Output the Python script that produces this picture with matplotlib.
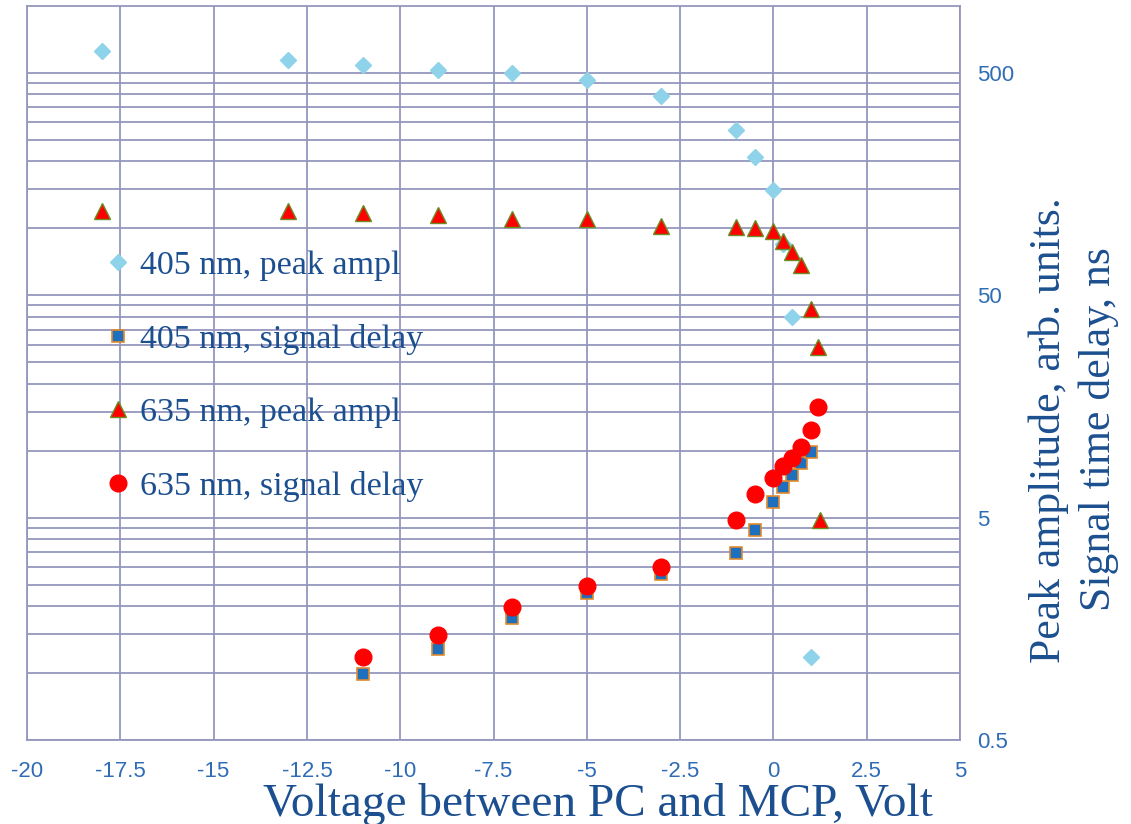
import matplotlib
matplotlib.use('Agg')
import matplotlib.pyplot as plt
from matplotlib.ticker import FixedLocator, NullFormatter

# data
x_405_amp = [-18, -13, -11, -9, -7, -5, -3, -1, -0.5, 0, 0.25, 0.5, 1.0]
y_405_amp = [628, 572, 543, 516, 500, 465, 394, 277, 210, 149, 85, 40, 1.18]

x_405_del = [-11, -9, -7, -5, -3, -1, -0.5, 0, 0.25, 0.5, 0.75, 1.0]
y_405_del = [0.99, 1.28, 1.77, 2.29, 2.79, 3.47, 4.4, 5.9, 6.84, 7.8, 8.8, 9.9]

x_635_amp = [-18, -13, -11, -9, -7, -5, -3, -1, -0.5, 0, 0.25, 0.5, 0.75, 1.0, 1.2, 1.25]
y_635_amp = [120, 120, 117, 115, 110, 110, 103, 101, 100, 97.7, 88, 78, 68.5, 43.6, 29.3, 4.9]

x_635_del = [-11, -9, -7, -5, -3, -1, -0.5, 0, 0.25, 0.5, 0.75, 1.0, 1.2]
y_635_del = [1.18, 1.49, 1.99, 2.47, 2.99, 4.9, 6.4, 7.5, 8.5, 9.3, 10.4, 12.4, 15.8]

labels = ['405 nm, peak ampl', '405 nm, signal delay',
          '635 nm, peak ampl', '635 nm, signal delay']

x_ticks = [-20, -17.5, -15, -12.5, -10, -7.5, -5, -2.5, 0, 2.5, 5]
x_tick_labels = ['-20', '-17.5', '-15', '-12.5', '-10', '-7.5', '-5', '-2.5', '0', '2.5', '5']
y_ticks = [0.5, 5, 50, 500]
y_tick_labels = ['0.5', '5', '50', '500']

grid_col = '#9497bd'
tick_col = '#2f6cb5'
label_col = '#1c4f8f'

fig = plt.figure(figsize=(11.31, 8.24), dpi=100)
ax = fig.add_axes([27 / 1131, 1 - 740 / 824, (960 - 27) / 1131, (740 - 6) / 824])

ax.plot(x_405_amp, y_405_amp, linestyle='none', marker='D', ms=8.5,
        mfc='#8fd3ea', mec='#8fd3ea', label=labels[0], zorder=3)
ax.plot(x_405_del, y_405_del, linestyle='none', marker='s', ms=8.5,
        mfc='#1f6fbf', mec='#e08a2c', mew=1.2, label=labels[1], zorder=4)
ax.plot(x_635_amp, y_635_amp, linestyle='none', marker='^', ms=12,
        mfc='#ff0000', mec='#6b8e23', mew=1.0, label=labels[2], zorder=5)
ax.plot(x_635_del, y_635_del, linestyle='none', marker='o', ms=12,
        mfc='#ff0000', mec='#ff0000', label=labels[3], zorder=6)

ax.set_yscale('log')
ax.set_xlim(-20, 5)
ax.set_ylim(0.5, 1000)

ax.set_xticks(x_ticks)
ax.set_xticklabels(x_tick_labels)
ax.yaxis.set_major_locator(FixedLocator(y_ticks))
ax.set_yticklabels(y_tick_labels)
minor = [d * k for d in [0.5, 5, 50] for k in range(2, 10)]
ax.yaxis.set_minor_locator(FixedLocator(minor))
ax.yaxis.set_minor_formatter(NullFormatter())
ax.yaxis.tick_right()

ax.tick_params(axis='both', which='both', length=0, colors=tick_col, labelsize=16)
ax.tick_params(axis='x', pad=15)
ax.tick_params(axis='y', pad=12)
for t in ax.get_xticklabels() + ax.get_yticklabels():
    t.set_fontfamily('Liberation Sans')

ax.grid(True, which='major', color=grid_col, linewidth=1.3)
ax.grid(True, which='minor', axis='y', color=grid_col, linewidth=1.3)
ax.set_axisbelow(True)
for s in ax.spines.values():
    s.set_color(grid_col)
    s.set_linewidth(1.3)

fig.text(598 / 1131, 1 - 816 / 824, 'Voltage between PC and MCP, Volt',
         ha='center', va='baseline', fontsize=34, family='Liberation Serif', color=label_col)
fig.text(1049 / 1131, 1 - 430 / 824, 'Peak amplitude, arb. units.', rotation=90,
         ha='center', va='center', fontsize=31.5, family='Liberation Serif', color=label_col)
fig.text(1099 / 1131, 1 - 429 / 824, 'Signal time delay, ns', rotation=90,
         ha='center', va='center', fontsize=31.5, family='Liberation Serif', color=label_col)

leg = ax.legend(loc='upper left', bbox_to_anchor=(101 / 1131, 1 - 250 / 824),
                bbox_transform=fig.transFigure, frameon=False, borderpad=0,
                borderaxespad=0, handlelength=1.0, handletextpad=0.15,
                labelspacing=1.26, numpoints=1,
                prop={'family': 'Liberation Serif', 'size': 24.5})
for t in leg.get_texts():
    t.set_color(label_col)

fig.savefig('out.png', dpi=100)
